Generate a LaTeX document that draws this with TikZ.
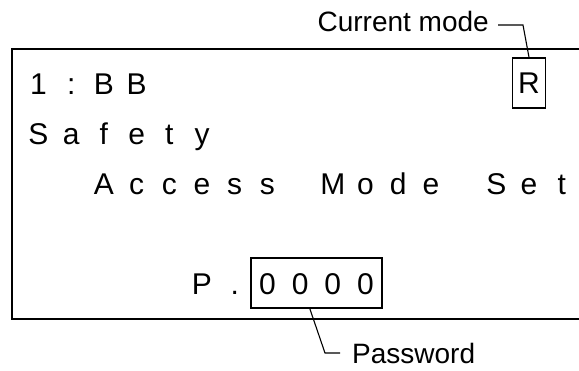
\documentclass[tikz,border=0pt]{standalone}
\usepackage{fontspec}
\setmainfont{Liberation Sans}
\usetikzlibrary{calc}
\tikzset{
  lcdchar/.style={
    anchor=base,
    inner sep=0pt,
    font=\fontsize{30}{32}\selectfont
  },
  cellbox/.style={
    draw,
    line width=1.5pt,
    minimum height=50pt,
    inner sep=0pt
  },
  calllabel/.style={inner sep=0pt,font=\fontsize{28}{30}\selectfont},
  callline/.style={line width=1.1pt}
}
\newcommand{\lcdzero}{38.5}
\newcommand{\lcdpitch}{32.7}

\begin{document}
\begin{tikzpicture}[x=1pt,y=-1pt]
  \useasboundingbox (0,0) rectangle (579,370);
  \clip (0,0) rectangle (579,370);
  % display frame, runs off to the right
  \draw[line width=2pt] (620,49) -- (12,49) -- (12,319) -- (620,319);
  % line 1
  \foreach \ch [count=\i from 0] in {1,:,B,B}
    \node[lcdchar] (lineA-\i) at ({\lcdzero+\lcdpitch*\i},94) {\ch};
  \node[cellbox,minimum width=\lcdpitch pt,font=\fontsize{30}{32}\selectfont]
    (mode) at ({\lcdzero+\lcdpitch*15},83) {R};
  % line 2
  \foreach \ch [count=\i from 0] in {S,a,f,e,t,y}
    \node[lcdchar] (lineB-\i) at ({\lcdzero+\lcdpitch*\i},144) {\ch};
  % line 3
  \foreach \ch [count=\i from 2] in {A,c,c,e,s,s,{},M,o,d,e,{},S,e,t}
    \node[lcdchar] (lineC-\i) at ({\lcdzero+\lcdpitch*\i},194) {\ch};
  % line 5
  \foreach \ch [count=\i from 5] in {P,.,0,0,0,0}
    \node[lcdchar] (lineE-\i) at ({\lcdzero+\lcdpitch*\i},294) {\ch};
  \node[cellbox,minimum width=4*\lcdpitch pt] (pwbox) at ({\lcdzero+\lcdpitch*8.5},283) {};
  % callouts
  \node[calllabel,anchor=base east] (modelabel) at (489,31) {Current mode};
  \draw[callline] ($(modelabel.base east)+(9,-6)$) -- ++(25,0) -- (mode.north);
  \node[calllabel,anchor=base west] (pwlabel) at (352,363) {Password};
  \draw[callline] ($(pwbox.south west)!0.45!(pwbox.south east)$)
    -- ($(pwlabel.base west)+(-27,-10)$) -- ($(pwlabel.base west)+(-12,-10)$);
\end{tikzpicture}
\end{document}
